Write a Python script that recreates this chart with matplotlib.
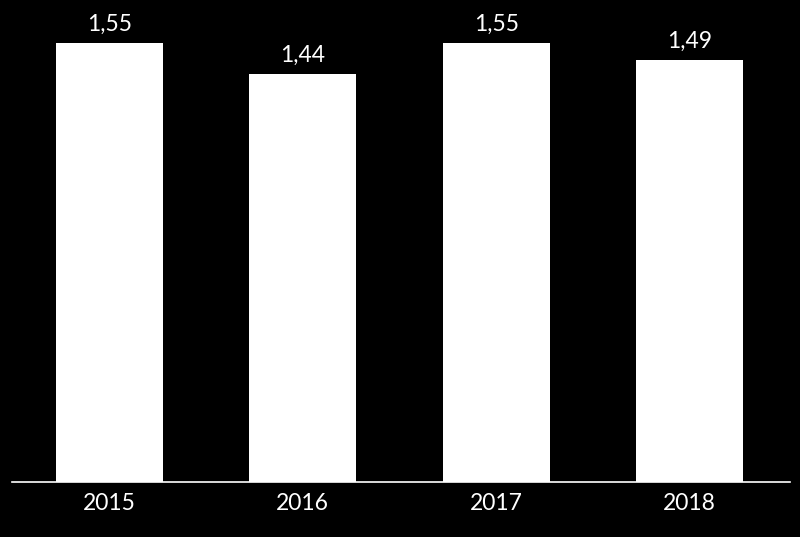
import matplotlib
matplotlib.use("Agg")
import matplotlib.pyplot as plt

years = ["2015", "2016", "2017", "2018"]
values = [1.55, 1.44, 1.55, 1.49]
labels = ["1,55", "1,44", "1,55", "1,49"]

fig = plt.figure(figsize=(8, 5.37), dpi=100, facecolor="black")
ax = fig.add_axes([12 / 800, 55 / 537, 778 / 800, 482 / 537], facecolor="black")

x = range(len(years))
bars = ax.bar(x, values, width=0.553, color="white", zorder=2)

for b, lab in zip(bars, labels):
    ax.annotate(lab, (b.get_x() + b.get_width() / 2, b.get_height()),
                xytext=(0, 6), textcoords="offset points",
                ha="center", va="bottom", color="white", fontsize=16.5,
                family="Lato")

ax.set_xlim(-0.504, 3.52)
ax.set_ylim(0, 1.702)
ax.set_xticks(list(x))
ax.set_xticklabels(years, color="white", fontsize=16.5, family="Lato")
ax.tick_params(axis="x", length=0, pad=8)
ax.set_yticks([])
for s in ["top", "right", "left"]:
    ax.spines[s].set_visible(False)
ax.spines["bottom"].set_color("white")
ax.spines["bottom"].set_linewidth(1.2)

fig.savefig("out.png", dpi=100, facecolor="black")
